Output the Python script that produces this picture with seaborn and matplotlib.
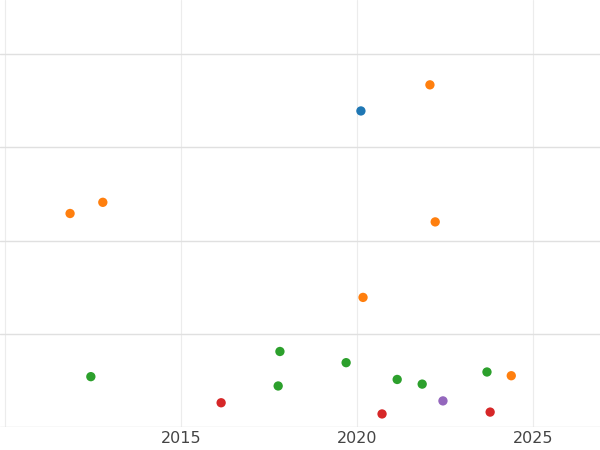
import matplotlib
matplotlib.use("Agg")
import matplotlib.pyplot as plt
import seaborn as sns
import pandas as pd

years = [2020.11, 2022.07, 2011.85, 2012.78, 2022.22, 2020.17, 2024.38,
         2017.81, 2012.44, 2017.76, 2019.69, 2021.14, 2021.85, 2023.69,
         2016.14, 2020.71, 2023.78, 2022.44]
values = [3.39, 3.67, 2.29, 2.41, 2.20, 1.39, 0.55,
          0.81, 0.54, 0.44, 0.69, 0.51, 0.46, 0.59,
          0.26, 0.14, 0.16, 0.28]
groups = ["A", "B", "B", "B", "B", "B", "B",
          "C", "C", "C", "C", "C", "C", "C",
          "D", "D", "D", "E"]
palette = {"A": "#1f77b4", "B": "#ff7f0e", "C": "#2ca02c", "D": "#d62728", "E": "#9467bd"}

df = pd.DataFrame({"year": years, "value": values, "group": groups})
sns.set_style("white")
fig = plt.figure(figsize=(6, 4.5), dpi=100)
ax = fig.add_axes([0, 23/450, 1, 427/450])
sns.scatterplot(data=df, x="year", y="value", hue="group", palette=palette,
                s=45, edgecolor="none", legend=False, ax=ax, zorder=3)
ax.set_xlim(2009.86, 2026.9)
ax.set_ylim(0, 4.58)
ax.set_xticks([2010, 2015, 2020, 2025])
ax.set_xticklabels(["", "2015", "2020", "2025"])
ax.set_yticks([0, 1, 2, 3, 4])
ax.set_yticklabels([])
ax.grid(True, axis="x", color="#ececec", lw=0.8)
ax.grid(True, axis="y", color="#e0e0e0", lw=1.0)
for s in ax.spines.values():
    s.set_visible(False)
ax.tick_params(axis="both", length=0, labelsize=11.5, labelcolor="#444444", pad=3)
ax.set_xlabel(""); ax.set_ylabel("")
fig.savefig("out.png", dpi=100)
